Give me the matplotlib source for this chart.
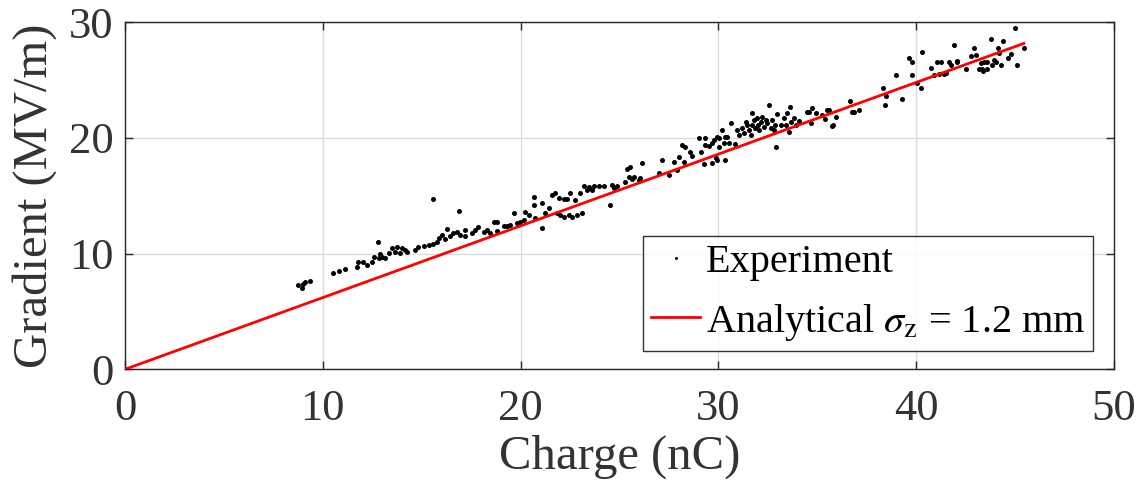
import numpy as np
import matplotlib
matplotlib.use('Agg')
import matplotlib.pyplot as plt

plt.rcParams['font.family'] = ['Liberation Serif', 'DejaVu Serif']
plt.rcParams['mathtext.fontset'] = 'stix'

# experiment points (charge nC, gradient MV/m)
charge_a = [8.77, 8.94, 9.02, 9.11, 9.36, 10.54, 10.8, 11.13, 11.72, 11.8, 12.06, 12.23,
            12.48, 12.57, 12.77, 12.82, 12.9, 12.99, 13.16, 13.33, 13.49, 13.66, 13.75,
            13.92, 14.0, 14.17, 14.25, 14.68, 14.84, 15.1, 15.35, 15.57, 15.6, 15.77]
grad_a = [7.29, 7.0, 7.37, 7.57, 7.66, 8.35, 8.52, 8.64, 8.82, 9.3, 9.3, 9.0,
          9.3, 9.73, 11.03, 9.59, 10.0, 9.73, 9.59, 10.03, 10.45, 10.16, 10.6,
          10.03, 10.45, 10.31, 10.16, 10.31, 10.6, 10.66, 10.74, 14.72, 10.83, 11.03]

charge_b = [15.86, 16.03, 16.19, 16.28, 16.45, 16.61, 16.79, 16.87, 16.95, 17.17, 17.2,
            17.55, 17.71, 17.85, 18.13, 18.3, 18.47, 18.64, 18.81, 18.81, 19.15, 19.32,
            19.48, 19.65, 19.82, 19.99, 20.16, 20.24, 20.41, 20.66, 20.66, 20.75, 21.08,
            21.11, 21.25, 21.42, 21.59, 21.76, 21.85, 21.93, 22.01, 22.18, 22.18, 22.35,
            22.43, 22.51, 22.6, 22.77, 22.86, 23.03, 23.11, 23.2]
grad_b = [11.32, 11.6, 11.24, 12.1, 11.52, 11.75, 11.9, 13.68, 11.6, 12.04, 11.52,
          11.75, 12.04, 12.27, 11.9, 12.04, 11.75, 12.76, 12.76, 11.98, 12.39, 12.39,
          12.47, 13.54, 12.62, 12.76, 12.9, 13.62, 13.34, 14.87, 14.2, 13.05, 14.35,
          12.24, 13.48, 13.92, 15.07, 15.26, 13.48, 14.78, 13.34, 14.69, 13.19, 14.69,
          13.34, 15.26, 13.19, 14.63, 13.34, 15.21, 13.48, 15.84]

charge_c = [23.36, 23.45, 23.62, 23.7, 23.95, 24.2, 24.54, 24.63, 24.71, 24.88, 25.3,
            25.39, 25.47, 25.56, 25.64, 25.72, 25.98, 26.06, 26.15, 26.99, 27.16, 27.5,
            27.75, 27.92, 28.0, 28.17, 28.25, 28.34, 28.59, 28.68, 29.01, 29.1, 29.27,
            29.35, 29.35, 29.52, 29.69, 29.69, 29.77, 29.86, 29.94, 29.94]
grad_c = [15.5, 15.78, 15.5, 15.84, 15.84, 15.84, 14.2, 15.93, 15.64, 15.84, 16.22,
          17.29, 16.65, 17.46, 16.42, 16.65, 16.36, 16.51, 17.8, 17.0, 18.09, 16.79,
          17.94, 17.22, 18.37, 19.39, 17.94, 19.24, 18.81, 18.44, 19.97, 18.81, 17.74,
          19.97, 19.39, 19.3, 19.53, 17.8, 19.82, 18.24, 20.1, 18.09]

charge_d = [30.03, 30.06, 30.2, 30.28, 30.36, 30.36, 30.45, 30.53, 30.62, 30.83, 30.96,
            31.04, 31.21, 31.29, 31.38, 31.46, 31.54, 31.63, 31.71, 31.71, 31.8, 31.88,
            31.97, 32.02, 32.05, 32.14, 32.22, 32.3, 32.39, 32.47, 32.56, 32.64, 32.73,
            32.81, 32.89, 32.93, 32.98, 33.15, 33.32, 33.4, 33.49, 33.57, 33.65, 33.7,
            33.82, 33.91, 34.07, 34.5, 34.58, 34.67, 34.75, 34.92, 35.25, 35.39, 35.5,
            35.59, 35.76, 35.8, 35.93, 36.65, 36.77, 36.86, 37.11]
grad_d = [19.24, 19.97, 20.68, 19.53, 18.09, 20.1, 20.1, 19.53, 21.26, 19.47, 20.68,
          20.25, 20.83, 20.4, 21.4, 21.11, 20.68, 20.25, 22.13, 21.11, 21.55, 20.83,
          21.69, 21.11, 20.68, 21.4, 21.83, 20.97, 21.55, 21.26, 22.84, 20.83, 21.55,
          20.68, 21.11, 19.24, 22.04, 21.11, 21.69, 21.11, 22.13, 20.54, 22.7, 21.4,
          21.69, 21.11, 21.49, 22.27, 22.27, 21.26, 22.56, 22.13, 21.98, 21.6, 22.4,
          22.41, 21.05, 21.11, 21.78, 23.21, 22.27, 22.27, 22.41]

charge_e = [36.82, 38.34, 38.43, 38.46, 38.96, 39.31, 39.64, 39.78, 39.81, 40.03, 40.23,
            40.32, 40.77, 40.91, 41.08, 41.24, 41.16, 41.41, 41.5, 41.67, 41.79, 41.92,
            42.05, 42.09, 42.51, 42.76, 42.93, 43.02, 43.18, 43.27, 43.32, 43.39, 43.43,
            43.6, 43.6, 43.77, 43.83, 43.94, 44.02, 44.16, 44.2, 44.28, 44.37, 44.67,
            44.79, 45.01, 45.09, 45.46]
grad_e = [22.27, 24.34, 22.84, 23.62, 25.44, 23.36, 26.88, 26.59, 25.44, 24.72, 24.34,
          27.45, 26.07, 25.44, 26.59, 26.59, 25.52, 25.52, 25.58, 26.59, 26.3, 28.03,
          26.59, 26.65, 26.0, 27.1, 27.74, 27.16, 26.0, 26.45, 26.0, 25.81, 26.59,
          26.0, 26.59, 28.6, 26.3, 26.73, 26.59, 27.74, 27.31, 26.3, 28.38, 26.88,
          27.22, 29.47, 26.3, 27.74]

charge = charge_a + charge_b + charge_c + charge_d + charge_e
gradient = grad_a + grad_b + grad_c + grad_d + grad_e

# analytical line end points
charge_fit = [0, 45.45]
grad_fit = [0, 28.18]

txt = '#333333'

fig = plt.figure(figsize=(11.38, 4.94), dpi=100)
ax = fig.add_axes([0.1098, 0.2524, 0.869, 0.7024])

ax.plot(charge, gradient, 'o', color='k', markersize=3.6, markeredgewidth=0,
        label='Experiment', zorder=3)
ax.plot(charge_fit, grad_fit, '-', color='#ff0000', linewidth=2,
        label=r'Analytical $\sigma_{\mathrm{z}}$ = 1.2 mm', zorder=4)

ax.set_xlim(0, 50)
ax.set_ylim(0, 30)
ax.set_xticks([0, 10, 20, 30, 40, 50])
ax.set_yticks([0, 10, 20, 30])
ax.grid(True, color='#dcdcdc', linewidth=1)
ax.set_axisbelow(True)
ax.tick_params(direction='in', length=6, width=1, top=True, right=True,
               labelsize=32, colors='#262626', labelcolor=txt)
ax.tick_params(axis='x', pad=14)
ax.tick_params(axis='y', pad=8)
for s in ax.spines.values():
    s.set_color('#262626')
    s.set_linewidth(1)

ax.set_xlabel('Charge (nC)', fontsize=35, color=txt, labelpad=4)
ax.set_ylabel('Gradient (MV/m)', fontsize=35, color=txt, labelpad=9)

leg = ax.legend(loc='lower right', bbox_to_anchor=(0.979, 0.054), borderaxespad=0,
                fontsize=29, frameon=True, fancybox=False, edgecolor='k',
                handlelength=1.2, handletextpad=0.15, borderpad=0.2,
                labelspacing=0.5, markerscale=0.6)
leg.get_frame().set_linewidth(1)
for t in leg.get_texts():
    t.set_color('k')

fig.savefig('out.png', dpi=100)
